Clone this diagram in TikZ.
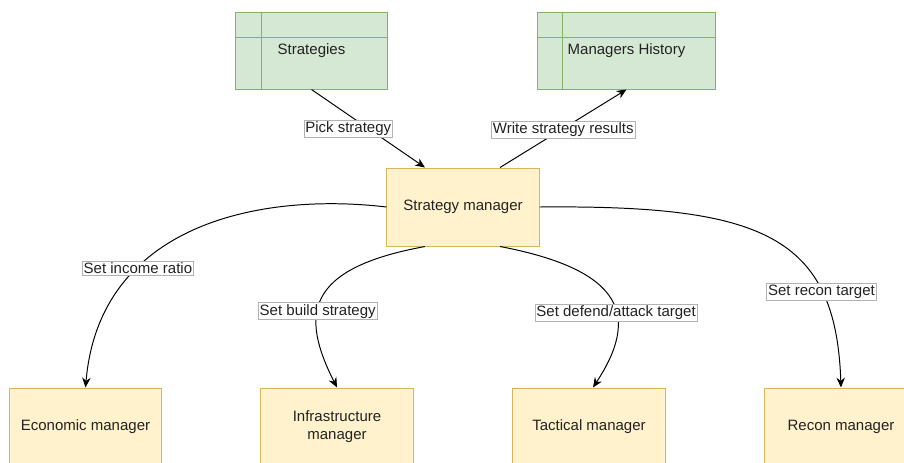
\documentclass[tikz,border=0pt]{standalone}
\usepackage{fontspec}
\setmainfont{Liberation Sans}
\usetikzlibrary{arrows.meta,calc}

\definecolor{tabfill}{HTML}{D5E8D4}
\definecolor{tabdraw}{HTML}{82B366}
\definecolor{mgrfill}{HTML}{FFF2CC}
\definecolor{mgrdraw}{HTML}{D6B656}
\definecolor{txt}{HTML}{222222}

\tikzset{
  table/.style={draw=tabdraw, fill=tabfill, line width=0.7pt, minimum height=1.925cm, text=txt},
  tabline/.style={draw=tabdraw, line width=0.7pt},
  manager/.style={draw=mgrdraw, fill=mgrfill, line width=0.7pt, minimum width=3.8cm, minimum height=1.95cm, align=center, text=txt},
  flow/.style={->, line width=0.7pt, draw=black},
  lbl/.style={draw=gray!60, line width=0.4pt, fill=white, inner sep=1pt, text=txt},
  >={Stealth[length=7pt,width=6pt]}
}

\begin{document}
\begin{tikzpicture}[x=0.025cm, y=-0.025cm, font=\fontsize{10.67}{12.8}\selectfont]
      \useasboundingbox (0,0) rectangle (904,462);
      \clip (0,0) rectangle (904,462);

      % tables
      \node [table, minimum width=3.775cm] (strat) at (311.5,50.5) {Strategies};
      \node [table, minimum width=4.425cm] (hist) at (626.5,50.5) {Managers History};
      \draw [tabline] ($(strat.north west)+(26,0)$) -- ($(strat.south west)+(26,0)$);
      \draw [tabline] ($(strat.north west)+(0,26)$) -- ($(strat.north east)+(0,26)$);
      \draw [tabline] ($(hist.north west)+(25,0)$) -- ($(hist.south west)+(25,0)$);
      \draw [tabline] ($(hist.north west)+(0,26)$) -- ($(hist.north east)+(0,26)$);

      % managers
      \node [manager] (sm) at (463,207) {Strategy manager};
      \node [manager] (eco) at (85.5,427) {Economic manager};
      \node [manager] (infra) at (337,427) {Infrastructure\\manager};
      \node [manager] (tac) at (589,427) {Tactical manager};
      \node [manager] (recon) at (841,427) {Recon manager};

      % strategy edges
      \draw [flow] (strat.south) -- node [lbl, xshift=-0.5cm] {Pick strategy} ($(sm.north)+(-38,0)$);
      \draw [flow] ($(sm.north)+(37,0)$) -- node [lbl, yshift=-1pt] {Write strategy results} (hist.south);

      % orders to managers
      \draw [flow] (sm.west) .. controls +(-127,-15) and +(14,-163) .. node [lbl, pos=0.68] {Set income ratio} (eco.north);
      \draw [flow] ($(sm.south)+(-38,0)$) .. controls +(-120,22) and +(-37,-73) .. node [lbl, pos=0.59] {Set build strategy} (infra.north);
      \draw [flow] ($(sm.south)+(37,0)$) .. controls +(126,24) and +(46,-70) .. node [lbl, pos=0.59] {Set defend/attack target} ($(tac.north)+(4,0)$);
      \draw [flow] (sm.east) .. controls +(221,-2) and +(-5,-153) .. node [lbl, pos=0.74] {Set recon target} (recon.north);
\end{tikzpicture}
\end{document}
